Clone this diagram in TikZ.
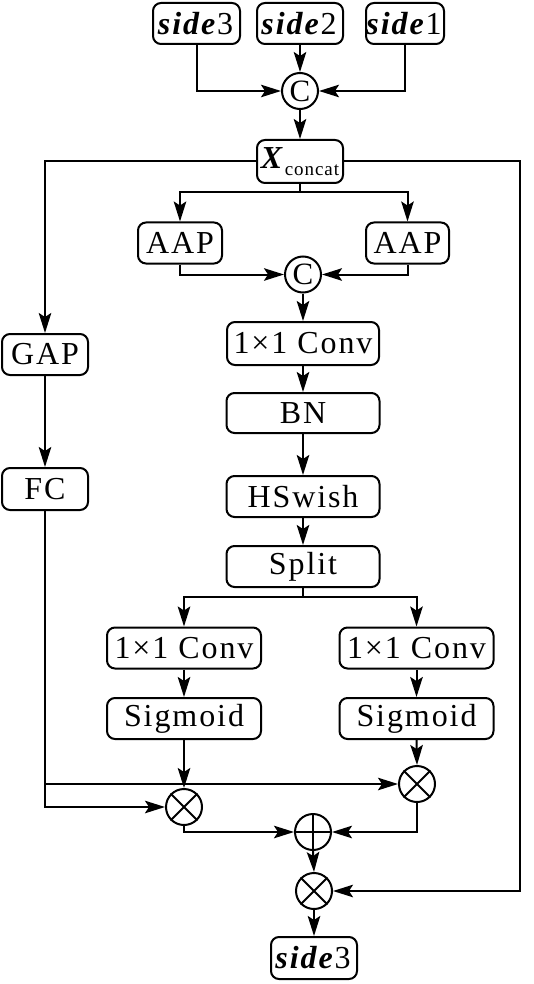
\documentclass[tikz,border=0pt]{standalone}
\usepackage{fontspec}
\setmainfont{Liberation Serif}
\usetikzlibrary{arrows.meta}
\tikzset{
  blk/.style={draw, line width=2pt, rounded corners=8pt, inner sep=0pt,
    minimum height=41pt, font=\fontsize{32}{34}\selectfont\addfontfeatures{LetterSpace=6}},
  opc/.style={draw, circle, line width=2pt, minimum size=36pt, inner sep=0pt,
    font=\fontsize{31}{33}\selectfont},
  arr/.style={line width=2pt, -{Stealth[length=20pt,width=12.5pt,inset=4pt]}},
  ln/.style={line width=2pt},
}
\newcommand{\sidetxt}[1]{\textbf{\textit{side}}\textup{\mdseries #1}}
\newcommand{\conv}{1×1 Conv}
\begin{document}
\begin{tikzpicture}[x=1pt,y=-1pt]
\useasboundingbox (0,0) rectangle (534,984);
% top inputs
\node[blk, minimum width=87pt] (s3) at (196.5,23.5) {\sidetxt{3}};
\node[blk, minimum width=86pt] (s2) at (300,23.5) {\sidetxt{2}};
\node[blk, minimum width=78pt] (s1) at (405,23.5) {\sidetxt{1}};
\node[opc] (c1) at (300,91) {C};
\node[blk, minimum width=86pt, minimum height=43pt] (xc) at (300,161.5)
  {\textbf{\textit{X}}\raisebox{-7pt}{\fontsize{19}{20}\selectfont\addfontfeatures{LetterSpace=5}concat}};
% AAP
\node[blk, minimum width=84pt] (aapL) at (180,243) {AAP};
\node[blk, minimum width=83pt] (aapR) at (407.5,243) {AAP};
\node[opc] (c2) at (303,274.5) {C};
% middle column
\node[blk, minimum width=152pt, minimum height=43pt] (conv) at (303,343.5) {\conv};
\node[blk, minimum width=153pt, minimum height=40pt] (bn) at (303,413) {BN};
\node[blk, minimum width=153pt] (hs) at (303,496.5) {HSwish};
\node[blk, minimum width=153pt] (split) at (303,566.5) {Split};
% left column
\node[blk, minimum width=86pt] (gap) at (45,354.5) {GAP};
\node[blk, minimum width=86pt, minimum height=42pt] (fc) at (45,489) {FC};
% branches
\node[blk, minimum width=154pt] (convL) at (184,648) {\conv};
\node[blk, minimum width=154pt] (convR) at (416.5,648) {\conv};
\node[blk, minimum width=154pt] (sigL) at (184,718.5) {Sigmoid};
\node[blk, minimum width=154pt] (sigR) at (416.5,718.5) {Sigmoid};
% operators
\node[opc] (mL) at (184,807) {};
\node[opc] (mR) at (417,784) {};
\node[opc] (add) at (313,832) {};
\node[opc] (mF) at (314,891) {};
\draw[ln] (mL.north east) -- (mL.south west) (mL.north west) -- (mL.south east);
\draw[ln] (mR.north east) -- (mR.south west) (mR.north west) -- (mR.south east);
\draw[ln] (mF.north east) -- (mF.south west) (mF.north west) -- (mF.south east);
\draw[ln] (add.north) -- (add.south) (add.west) -- (add.east);
\node[blk, minimum width=86pt, minimum height=42pt] (out) at (314,958) {\sidetxt{3}};
% coordinates
\coordinate (b1) at (300,192);
\coordinate (b2) at (303,597);
\coordinate (r2) at (520,891);
% connectors top
\draw[arr] (s3.south) |- (c1.west);
\draw[arr] (s2.south) -- (c1.north);
\draw[arr] (s1.south) |- (c1.east);
\draw[arr] (c1.south) -- (xc.north);
\draw[arr] (xc.west) -| (gap.north);
\draw[arr] (xc.east) -| (r2) -- (mF.east);
\draw[ln] (xc.south) -- (b1);
\draw[arr] (b1) -| (aapL.north);
\draw[arr] (b1) -| (aapR.north);
\draw[arr] (aapL.south) |- (c2.west);
\draw[arr] (aapR.south) |- (c2.east);
\draw[arr] (c2.south) -- (conv.north);
\draw[arr] (conv.south) -- (bn.north);
\draw[arr] (bn.south) -- (hs.north);
\draw[arr] (hs.south) -- (split.north);
\draw[ln] (split.south) -- (b2);
\draw[arr] (b2) -| (convL.north);
\draw[arr] (b2) -| (convR.north);
\draw[arr] (convL.south) -- (sigL.north);
\draw[arr] (convR.south) -- (sigR.north);
\draw[arr] (sigL.south) -- (mL.north);
\draw[arr] (sigR.south) -- (mR.north);
\draw[arr] (gap.south) -- (fc.north);
\draw[arr] (fc.south) |- (mL.west);
\draw[arr] (fc.south |- mR.west) -- (mR.west);
\draw[arr] (mL.south) |- (add.west);
\draw[arr] (mR.south) |- (add.east);
\draw[arr] (add.south) -- (mF.north);
\draw[arr] (mF.south) -- (out.north);
\end{tikzpicture}
\end{document}
